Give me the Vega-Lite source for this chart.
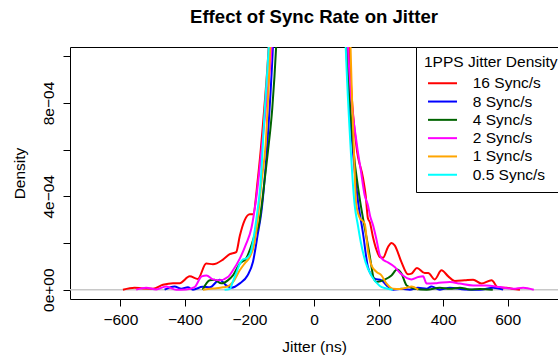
{
  "$schema": "https://vega.github.io/schema/vega-lite/v6.json",
  "width": 488,
  "height": 252,
  "autosize": {"type": "none"},
  "padding": {"left": 70, "top": 47, "right": 0, "bottom": 59},
  "background": "white",
  "config": {
    "font": "Liberation Sans",
    "view": {"stroke": "black", "strokeWidth": 1}
  },
  "title": {
    "text": "Effect of Sync Rate on Jitter",
    "fontSize": 18.6,
    "fontWeight": "bold",
    "color": "black",
    "anchor": "middle",
    "frame": "group",
    "offset": 20
  },
  "encoding": {
    "y": {
      "field": "y",
      "type": "quantitative",
      "scale": {"domain": [-0.00004, 0.00104], "nice": false, "zero": false},
      "axis": {
        "values": [0, 0.0002, 0.0004, 0.0006, 0.0008, 0.001],
        "labelExpr": "datum.value == 0 ? '0e+00' : datum.value == 0.0004 ? '4e−04' : datum.value == 0.0008 ? '8e−04' : ''",
        "labelAngle": -90,
        "labelAlign": "center",
        "labelBaseline": "alphabetic",
        "labelPadding": 9.5,
        "labelFontSize": 15.5,
        "labelColor": "black",
        "labelOverlap": false,
        "tickSize": 7,
        "tickColor": "black",
        "grid": false,
        "domain": false,
        "title": "Density",
        "titleFontSize": 15.5,
        "titleFontWeight": "normal",
        "titleColor": "black",
        "titlePadding": 14
      }
    }
  },
  "layer": [
    {
      "data": {"values": [{"y": 0}]},
      "mark": {"type": "rule", "color": "#c8c8c8", "strokeWidth": 1.5}
    },
    {
      "data": {"values": [
        {"s":"16 Sync/s","x":-592,"y":0},{"s":"16 Sync/s","x":-556,"y":8.6e-6},{"s":"16 Sync/s","x":-530,"y":5e-6},{"s":"16 Sync/s","x":-499,"y":4.3e-6},{"s":"16 Sync/s","x":-468,"y":2.1e-5},{"s":"16 Sync/s","x":-437,"y":2.8e-5},{"s":"16 Sync/s","x":-416,"y":2.8e-5},{"s":"16 Sync/s","x":-385,"y":5.7e-5},{"s":"16 Sync/s","x":-360,"y":4.6e-5},{"s":"16 Sync/s","x":-334,"y":1.12e-4},{"s":"16 Sync/s","x":-313,"y":1.09e-4},{"s":"16 Sync/s","x":-282,"y":1.29e-4},{"s":"16 Sync/s","x":-261,"y":1.52e-4},{"s":"16 Sync/s","x":-241,"y":1.61e-4},{"s":"16 Sync/s","x":-230,"y":2.3e-4},{"s":"16 Sync/s","x":-215,"y":2.97e-4},{"s":"16 Sync/s","x":-199,"y":3.23e-4},{"s":"16 Sync/s","x":-189,"y":3.23e-4},{"s":"16 Sync/s","x":-174,"y":4.75e-4},{"s":"16 Sync/s","x":-155,"y":7.62e-4},{"s":"16 Sync/s","x":-140,"y":1.05e-3},{"s":"16 Sync/s","x":-110,"y":0.0022},{"s":"16 Sync/s","x":-60,"y":0.005},{"s":"16 Sync/s","x":0,"y":0.007},{"s":"16 Sync/s","x":60,"y":0.005},{"s":"16 Sync/s","x":90,"y":0.0022},
        {"s":"16 Sync/s","x":109,"y":1.05e-3},{"s":"16 Sync/s","x":131,"y":6.19e-4},{"s":"16 Sync/s","x":152,"y":4.78e-4},{"s":"16 Sync/s","x":160,"y":4.05e-4},{"s":"16 Sync/s","x":167,"y":3.06e-4},{"s":"16 Sync/s","x":173,"y":2.89e-4},{"s":"16 Sync/s","x":183,"y":2.24e-4},{"s":"16 Sync/s","x":194,"y":1.69e-4},{"s":"16 Sync/s","x":204,"y":1.4e-4},{"s":"16 Sync/s","x":214,"y":1.37e-4},{"s":"16 Sync/s","x":229,"y":1.82e-4},{"s":"16 Sync/s","x":240,"y":2e-4},{"s":"16 Sync/s","x":250,"y":1.9e-4},{"s":"16 Sync/s","x":271,"y":1.18e-4},{"s":"16 Sync/s","x":291,"y":6.6e-5},{"s":"16 Sync/s","x":302,"y":6.9e-5},{"s":"16 Sync/s","x":319,"y":9.3e-5},{"s":"16 Sync/s","x":343,"y":7.1e-5},{"s":"16 Sync/s","x":354,"y":7.1e-5},{"s":"16 Sync/s","x":374,"y":4.4e-5},{"s":"16 Sync/s","x":395,"y":8.3e-5},{"s":"16 Sync/s","x":416,"y":5.7e-5},{"s":"16 Sync/s","x":436,"y":3.7e-5},{"s":"16 Sync/s","x":467,"y":4e-5},{"s":"16 Sync/s","x":493,"y":4.3e-5},{"s":"16 Sync/s","x":519,"y":2.6e-5},{"s":"16 Sync/s","x":550,"y":4e-5},{"s":"16 Sync/s","x":571,"y":8.6e-6},{"s":"16 Sync/s","x":597,"y":8.6e-6},{"s":"16 Sync/s","x":617,"y":3e-6},{"s":"16 Sync/s","x":638,"y":0},

        {"s":"8  Sync/s","x":-463,"y":0},{"s":"8  Sync/s","x":-432,"y":1.4e-5},{"s":"8  Sync/s","x":-411,"y":4e-6},{"s":"8  Sync/s","x":-391,"y":1e-5},{"s":"8  Sync/s","x":-375,"y":0},{"s":"8  Sync/s","x":-345,"y":1.2e-5},{"s":"8  Sync/s","x":-323,"y":1e-5},{"s":"8  Sync/s","x":-292,"y":4.3e-5},{"s":"8  Sync/s","x":-272,"y":1.8e-5},{"s":"8  Sync/s","x":-255,"y":8.6e-6},{"s":"8  Sync/s","x":-230,"y":2.7e-5},{"s":"8  Sync/s","x":-206,"y":6.1e-5},{"s":"8  Sync/s","x":-189,"y":1.2e-4},{"s":"8  Sync/s","x":-174,"y":2.4e-4},{"s":"8  Sync/s","x":-163,"y":3.33e-4},{"s":"8  Sync/s","x":-145,"y":6.19e-4},{"s":"8  Sync/s","x":-127,"y":1.05e-3},{"s":"8  Sync/s","x":-100,"y":0.0022},{"s":"8  Sync/s","x":-50,"y":0.005},{"s":"8  Sync/s","x":0,"y":0.007},{"s":"8  Sync/s","x":50,"y":0.005},{"s":"8  Sync/s","x":80,"y":0.0022},
        {"s":"8  Sync/s","x":100,"y":1.05e-3},{"s":"8  Sync/s","x":119,"y":6.19e-4},{"s":"8  Sync/s","x":136,"y":3.83e-4},{"s":"8  Sync/s","x":152,"y":2.4e-4},{"s":"8  Sync/s","x":167,"y":9.7e-5},{"s":"8  Sync/s","x":179,"y":6.1e-5},{"s":"8  Sync/s","x":188,"y":4.7e-5},{"s":"8  Sync/s","x":209,"y":4e-5},{"s":"8  Sync/s","x":225,"y":1.8e-5},{"s":"8  Sync/s","x":245,"y":0},{"s":"8  Sync/s","x":271,"y":4e-6},{"s":"8  Sync/s","x":297,"y":0},{"s":"8  Sync/s","x":322,"y":8e-6},{"s":"8  Sync/s","x":349,"y":4e-6},{"s":"8  Sync/s","x":364,"y":1.4e-5},{"s":"8  Sync/s","x":390,"y":0},{"s":"8  Sync/s","x":421,"y":8.6e-6},{"s":"8  Sync/s","x":467,"y":1e-6},{"s":"8  Sync/s","x":514,"y":0},{"s":"8  Sync/s","x":555,"y":8.6e-6},{"s":"8  Sync/s","x":586,"y":0},

        {"s":"4  Sync/s","x":-345,"y":0},{"s":"4  Sync/s","x":-323,"y":4e-5},{"s":"4  Sync/s","x":-308,"y":4.2e-5},{"s":"4  Sync/s","x":-287,"y":2.7e-5},{"s":"4  Sync/s","x":-267,"y":4e-5},{"s":"4  Sync/s","x":-251,"y":6.1e-5},{"s":"4  Sync/s","x":-230,"y":1.12e-4},{"s":"4  Sync/s","x":-210,"y":1.34e-4},{"s":"4  Sync/s","x":-197,"y":1.77e-4},{"s":"4  Sync/s","x":-184,"y":2.33e-4},{"s":"4  Sync/s","x":-171,"y":2.76e-4},{"s":"4  Sync/s","x":-162,"y":3.62e-4},{"s":"4  Sync/s","x":-153,"y":4.69e-4},{"s":"4  Sync/s","x":-143,"y":5.89e-4},{"s":"4  Sync/s","x":-129,"y":7.82e-4},{"s":"4  Sync/s","x":-117,"y":1.05e-3},{"s":"4  Sync/s","x":-90,"y":0.0022},{"s":"4  Sync/s","x":-40,"y":0.005},{"s":"4  Sync/s","x":0,"y":0.007},{"s":"4  Sync/s","x":50,"y":0.005},{"s":"4  Sync/s","x":75,"y":0.0022},
        {"s":"4  Sync/s","x":102,"y":1.05e-3},{"s":"4  Sync/s","x":121,"y":6.19e-4},{"s":"4  Sync/s","x":140,"y":4.05e-4},{"s":"4  Sync/s","x":157,"y":2.67e-4},{"s":"4  Sync/s","x":171,"y":1.6e-4},{"s":"4  Sync/s","x":179,"y":9.1e-5},{"s":"4  Sync/s","x":185,"y":4.8e-5},{"s":"4  Sync/s","x":194,"y":3.3e-5},{"s":"4  Sync/s","x":219,"y":4.3e-5},{"s":"4  Sync/s","x":240,"y":6.1e-5},{"s":"4  Sync/s","x":257,"y":8.6e-5},{"s":"4  Sync/s","x":271,"y":6.9e-5},{"s":"4  Sync/s","x":287,"y":1.8e-5},{"s":"4  Sync/s","x":312,"y":4e-6},{"s":"4  Sync/s","x":349,"y":0},{"s":"4  Sync/s","x":390,"y":8.6e-6},{"s":"4  Sync/s","x":421,"y":4e-6},{"s":"4  Sync/s","x":452,"y":8.6e-6},{"s":"4  Sync/s","x":483,"y":1e-6},{"s":"4  Sync/s","x":514,"y":3e-6},{"s":"4  Sync/s","x":554,"y":0},

        {"s":"2  Sync/s","x":-551,"y":0},{"s":"2  Sync/s","x":-520,"y":8.6e-6},{"s":"2  Sync/s","x":-489,"y":1e-6},{"s":"2  Sync/s","x":-458,"y":1.4e-5},{"s":"2  Sync/s","x":-427,"y":0},{"s":"2  Sync/s","x":-396,"y":1e-6},{"s":"2  Sync/s","x":-370,"y":1.1e-5},{"s":"2  Sync/s","x":-348,"y":5.7e-5},{"s":"2  Sync/s","x":-333,"y":6.1e-5},{"s":"2  Sync/s","x":-313,"y":4.4e-5},{"s":"2  Sync/s","x":-292,"y":4e-5},{"s":"2  Sync/s","x":-267,"y":5.4e-5},{"s":"2  Sync/s","x":-251,"y":8.3e-5},{"s":"2  Sync/s","x":-230,"y":1.33e-4},{"s":"2  Sync/s","x":-210,"y":1.97e-4},{"s":"2  Sync/s","x":-194,"y":2.63e-4},{"s":"2  Sync/s","x":-179,"y":3.92e-4},{"s":"2  Sync/s","x":-161,"y":6.19e-4},{"s":"2  Sync/s","x":-147,"y":8.1e-4},{"s":"2  Sync/s","x":-131,"y":1.05e-3},{"s":"2  Sync/s","x":-105,"y":0.0022},{"s":"2  Sync/s","x":-55,"y":0.005},{"s":"2  Sync/s","x":0,"y":0.007},{"s":"2  Sync/s","x":50,"y":0.005},{"s":"2  Sync/s","x":80,"y":0.0022},
        {"s":"2  Sync/s","x":105,"y":1.05e-3},{"s":"2  Sync/s","x":133,"y":6.19e-4},{"s":"2  Sync/s","x":145,"y":5.12e-4},{"s":"2  Sync/s","x":157,"y":4.05e-4},{"s":"2  Sync/s","x":167,"y":3.62e-4},{"s":"2  Sync/s","x":174,"y":3.15e-4},{"s":"2  Sync/s","x":183,"y":2.76e-4},{"s":"2  Sync/s","x":194,"y":2.12e-4},{"s":"2  Sync/s","x":204,"y":1.47e-4},{"s":"2  Sync/s","x":216,"y":1.26e-4},{"s":"2  Sync/s","x":229,"y":1.17e-4},{"s":"2  Sync/s","x":250,"y":9.7e-5},{"s":"2  Sync/s","x":271,"y":6.6e-5},{"s":"2  Sync/s","x":302,"y":4.4e-5},{"s":"2  Sync/s","x":323,"y":5.4e-5},{"s":"2  Sync/s","x":338,"y":5.7e-5},{"s":"2  Sync/s","x":349,"y":2.6e-5},{"s":"2  Sync/s","x":380,"y":2.8e-5},{"s":"2  Sync/s","x":421,"y":3.3e-5},{"s":"2  Sync/s","x":452,"y":2.6e-5},{"s":"2  Sync/s","x":493,"y":1.8e-5},{"s":"2  Sync/s","x":535,"y":1.8e-5},{"s":"2  Sync/s","x":576,"y":1.1e-5},{"s":"2  Sync/s","x":617,"y":4e-6},{"s":"2  Sync/s","x":648,"y":8.6e-6},{"s":"2  Sync/s","x":681,"y":0},

        {"s":"1 Sync/s","x":-344,"y":0},{"s":"1 Sync/s","x":-313,"y":5e-6},{"s":"1 Sync/s","x":-282,"y":1e-5},{"s":"1 Sync/s","x":-267,"y":1.4e-5},{"s":"1 Sync/s","x":-251,"y":3.3e-5},{"s":"1 Sync/s","x":-230,"y":8.3e-5},{"s":"1 Sync/s","x":-215,"y":1.12e-4},{"s":"1 Sync/s","x":-199,"y":1.4e-4},{"s":"1 Sync/s","x":-184,"y":2.03e-4},{"s":"1 Sync/s","x":-174,"y":3.06e-4},{"s":"1 Sync/s","x":-162,"y":4.69e-4},{"s":"1 Sync/s","x":-150,"y":6.19e-4},{"s":"1 Sync/s","x":-135,"y":1.05e-3},{"s":"1 Sync/s","x":-105,"y":0.0022},{"s":"1 Sync/s","x":-55,"y":0.005},{"s":"1 Sync/s","x":0,"y":0.007},{"s":"1 Sync/s","x":50,"y":0.005},{"s":"1 Sync/s","x":85,"y":0.0022},
        {"s":"1 Sync/s","x":113,"y":1.05e-3},{"s":"1 Sync/s","x":118,"y":8.1e-4},{"s":"1 Sync/s","x":123,"y":6.19e-4},{"s":"1 Sync/s","x":131,"y":3.62e-4},{"s":"1 Sync/s","x":141,"y":3.1e-4},{"s":"1 Sync/s","x":157,"y":2.83e-4},{"s":"1 Sync/s","x":167,"y":1.69e-4},{"s":"1 Sync/s","x":178,"y":1.04e-4},{"s":"1 Sync/s","x":194,"y":7.6e-5},{"s":"1 Sync/s","x":209,"y":6.1e-5},{"s":"1 Sync/s","x":225,"y":2.6e-5},{"s":"1 Sync/s","x":245,"y":4e-6},{"s":"1 Sync/s","x":266,"y":3e-6},{"s":"1 Sync/s","x":287,"y":8.6e-6},{"s":"1 Sync/s","x":302,"y":1.4e-5},{"s":"1 Sync/s","x":323,"y":0},

        {"s":"0.5 Sync/s","x":-277,"y":0},{"s":"0.5 Sync/s","x":-261,"y":3e-6},{"s":"0.5 Sync/s","x":-251,"y":3.6e-5},{"s":"0.5 Sync/s","x":-240,"y":7.4e-5},{"s":"0.5 Sync/s","x":-230,"y":1.11e-4},{"s":"0.5 Sync/s","x":-220,"y":1.3e-4},{"s":"0.5 Sync/s","x":-209,"y":1.34e-4},{"s":"0.5 Sync/s","x":-196,"y":1.6e-4},{"s":"0.5 Sync/s","x":-184,"y":2.5e-4},{"s":"0.5 Sync/s","x":-175,"y":3.4e-4},{"s":"0.5 Sync/s","x":-166,"y":4.48e-4},{"s":"0.5 Sync/s","x":-153,"y":7.61e-4},{"s":"0.5 Sync/s","x":-140,"y":1.05e-3},{"s":"0.5 Sync/s","x":-110,"y":0.0022},{"s":"0.5 Sync/s","x":-60,"y":0.005},{"s":"0.5 Sync/s","x":0,"y":0.007},{"s":"0.5 Sync/s","x":50,"y":0.005},{"s":"0.5 Sync/s","x":75,"y":0.0022},
        {"s":"0.5 Sync/s","x":98,"y":1.05e-3},{"s":"0.5 Sync/s","x":113,"y":6.19e-4},{"s":"0.5 Sync/s","x":126,"y":3.62e-4},{"s":"0.5 Sync/s","x":136,"y":2.76e-4},{"s":"0.5 Sync/s","x":145,"y":2.03e-4},{"s":"0.5 Sync/s","x":160,"y":1.17e-4},{"s":"0.5 Sync/s","x":179,"y":5.7e-5},{"s":"0.5 Sync/s","x":204,"y":1.6e-5},{"s":"0.5 Sync/s","x":222,"y":6e-6},{"s":"0.5 Sync/s","x":244,"y":0}
      ]},
      "mark": {"type": "line", "clip": true, "strokeWidth": 2, "interpolate": "monotone"},
      "encoding": {
        "x": {
          "field": "x",
          "type": "quantitative",
          "scale": {"domain": [-756, 756], "nice": false, "zero": false},
          "axis": {
            "values": [-600, -400, -200, 0, 200, 400, 600],
            "title": "Jitter (ns)",
            "grid": false,
            "domain": false,
            "tickSize": 7,
            "tickColor": "black",
            "labelFontSize": 15.5,
            "labelColor": "black",
            "labelPadding": 6,
            "labelFlush": false,
            "labelOverlap": false,
            "titleFontSize": 15.5,
            "titleFontWeight": "normal",
            "titleColor": "black",
            "titlePadding": 12
          }
        },
        "color": {
          "field": "s",
          "type": "nominal",
          "scale": {
            "domain": ["16 Sync/s", "8  Sync/s", "4  Sync/s", "2  Sync/s", "1 Sync/s", "0.5 Sync/s"],
            "range": ["#FF0000", "#0000FF", "#006400", "#FF00FF", "#FFA500", "#00FFFF"]
          },
          "legend": {
            "orient": "none",
            "legendX": 346,
            "legendY": 0,
            "title": "1PPS Jitter Density",
            "padding": 8,
            "strokeColor": "black",
            "fillColor": "white",
            "cornerRadius": 0,
            "symbolType": "M-2.9,0H2.9",
            "symbolSize": 100,
            "symbolStrokeWidth": 2,
            "symbolOffset": 10.75,
            "labelOffset": 22.5,
            "labelFontSize": 15.5,
            "labelColor": "black",
            "titleFontSize": 15.5,
            "titleFontWeight": "normal",
            "titleColor": "black",
            "titlePadding": 5,
            "rowPadding": 1.3
          }
        }
      }
    }
  ]
}
